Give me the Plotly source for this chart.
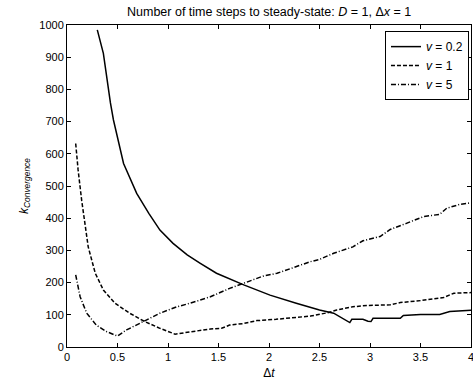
import plotly.graph_objects as go

# v = 0.2 (solid)
dt_v02 = [0.30, 0.36, 0.43, 0.46, 0.56, 0.69, 0.81, 0.92, 1.05, 1.19, 1.32, 1.48, 1.75, 2.01, 2.27,
          2.50, 2.64, 2.78, 2.80, 2.82, 2.93, 2.98, 3.01, 3.03, 3.30, 3.33, 3.50, 3.69, 3.79, 4.00]
k_v02 = [985, 912, 758, 705, 570, 477, 415, 363, 322, 286, 260, 229, 193, 161, 136,
         115, 105, 80, 76, 86, 86, 80, 79, 89, 89, 98, 101, 101, 110, 114]

# v = 1 (dashed)
dt_v1 = [0.086, 0.11, 0.145, 0.18, 0.21, 0.28, 0.36, 0.475, 0.62, 0.77, 0.92, 1.07, 1.19, 1.32, 1.42,
         1.53, 1.61, 1.75, 1.88, 2.07, 2.24, 2.41, 2.59, 2.67, 2.83, 2.97, 3.20, 3.30, 3.50, 3.73,
         3.83, 4.00]
k_v1 = [632, 550, 456, 374, 311, 229, 177, 136, 105, 79, 58, 40, 46, 53, 56,
        58, 68, 73, 82, 86, 92, 96, 107, 115, 125, 129, 131, 138, 144, 154,
        167, 169]

# v = 5 (dash-dot)
dt_v5 = [0.086, 0.13, 0.195, 0.29, 0.39, 0.50, 0.59, 0.72, 0.92, 1.09, 1.22, 1.42, 1.61, 1.75, 1.94,
         2.08, 2.21, 2.41, 2.50, 2.59, 2.64, 2.83, 2.93, 3.10, 3.20, 3.36, 3.53, 3.69, 3.76, 3.89, 4.00]
k_v5 = [224, 156, 105, 68, 48, 34, 53, 74, 105, 125, 136, 156, 182, 198, 220,
        229, 244, 265, 272, 285, 291, 311, 330, 343, 365, 384, 405, 412, 431, 443, 448]

x_ticks = [0, 0.5, 1, 1.5, 2, 2.5, 3, 3.5, 4]
x_tick_labels = ["0", "0.5", "1", "1.5", "2", "2.5", "3", "3.5", "4"]
y_ticks = [0, 100, 200, 300, 400, 500, 600, 700, 800, 900, 1000]

FONT = "Arial, Liberation Sans, Helvetica, sans-serif"

fig = go.Figure()
fig.add_trace(go.Scatter(x=dt_v02, y=k_v02, mode="lines", name="<i>v</i> = 0.2",
                         line=dict(color="black", width=1.5, dash="solid")))
fig.add_trace(go.Scatter(x=dt_v1, y=k_v1, mode="lines", name="<i>v</i> = 1",
                         line=dict(color="black", width=1.5, dash="4px,2px")))
fig.add_trace(go.Scatter(x=dt_v5, y=k_v5, mode="lines", name="<i>v</i> = 5",
                         line=dict(color="black", width=1.5, dash="5px,2px,1px,2px")))

axis_common = dict(
    showgrid=False, zeroline=False, showline=True, linecolor="black", linewidth=1,
    mirror="allticks", ticks="inside", ticklen=4, tickcolor="black", tickwidth=1,
    tickfont=dict(family=FONT, size=11, color="black"), automargin=False,
    ticklabeloverflow="allow",
)

fig.update_xaxes(range=[0, 4], tickvals=x_ticks, ticktext=x_tick_labels,
                 title=dict(text="Δ<i>t</i>", font=dict(family=FONT, size=12, color="black"), standoff=6),
                 **axis_common)
fig.update_yaxes(range=[0, 1000], tickvals=y_ticks,
                 title=dict(text="<i>k</i><sub><i>Convergence</i></sub>",
                            font=dict(family=FONT, size=12, color="black"), standoff=8),
                 **axis_common)

fig.update_layout(
    width=473, height=385,
    margin=dict(l=67, r=2, t=25, b=38),
    paper_bgcolor="white", plot_bgcolor="white",
    title=dict(text="Number of time steps to steady-state: <i>D</i> = 1, Δ<i>x</i> = 1",
               x=0.569, xanchor="center",
               y=1 - 12 / 385, yanchor="middle",
               font=dict(family=FONT, size=12.5, color="black")),
    legend=dict(x=0.995, xanchor="right", y=0.981, yanchor="top",
                bordercolor="black", borderwidth=1, bgcolor="white",
                font=dict(family=FONT, size=12, color="black"),
                itemwidth=30, tracegroupgap=0),
    showlegend=True,
)

fig.write_html("out.html", config={"displayModeBar": False},
               post_script="document.body.style.margin='0';")
